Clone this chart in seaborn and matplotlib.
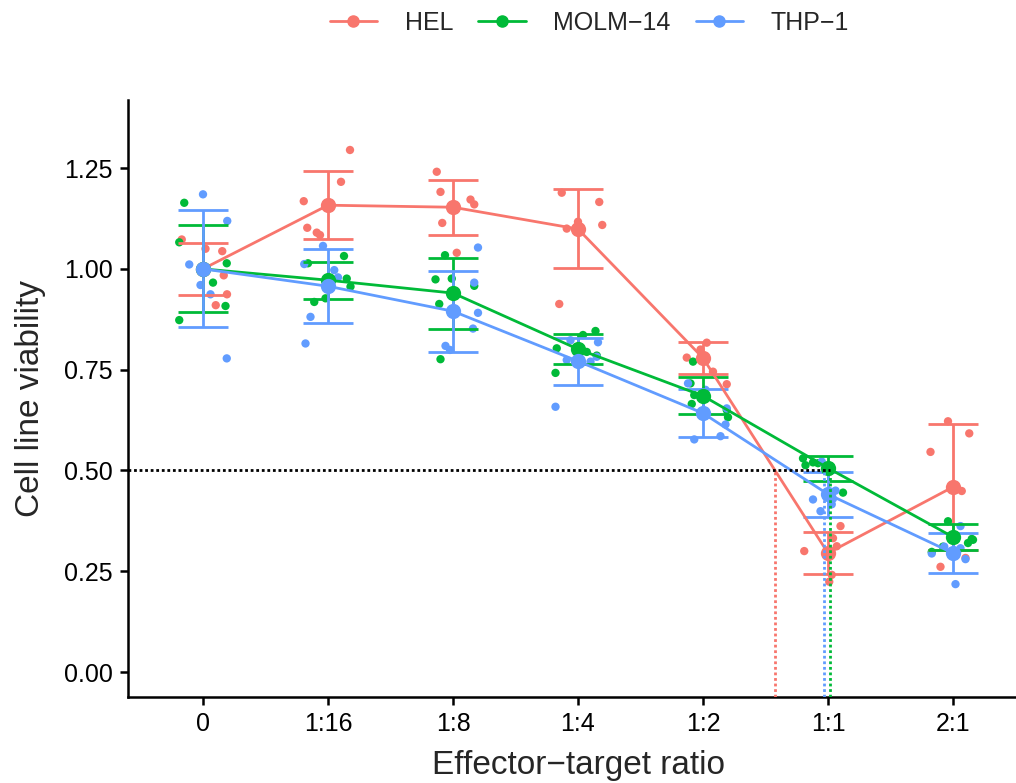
import pandas as pd
import seaborn as sns
import matplotlib.pyplot as plt
from matplotlib.lines import Line2D

# categories
ratios = ["0", "1:16", "1:8", "1:4", "1:2", "1:1", "2:1"]
cell_lines = ["HEL", "MOLM−14", "THP−1"]
palette = ["#F8766D", "#00BA38", "#619CFF"]

# group means and error (sd)
hel_mean = [1.000, 1.158, 1.153, 1.099, 0.779, 0.295, 0.459]
hel_sd = [0.065, 0.085, 0.068, 0.098, 0.040, 0.053, 0.157]
molm_mean = [1.000, 0.972, 0.940, 0.801, 0.685, 0.506, 0.335]
molm_sd = [0.108, 0.046, 0.088, 0.037, 0.046, 0.031, 0.032]
thp_mean = [1.000, 0.957, 0.895, 0.771, 0.642, 0.441, 0.295]
thp_sd = [0.145, 0.092, 0.100, 0.058, 0.059, 0.056, 0.049]

# ratio at which each line reaches 50 % viability (x position, category units)
ec50_pos = [4.576, 5.016, 4.968]

# replicate values, one row per ratio
hel_vals = [
    [1.073, 1.044, 0.984, 0.937, 0.910, 1.050],
    [1.295, 1.216, 1.168, 1.102, 1.090, 1.084],
    [1.241, 1.191, 1.172, 1.160, 1.114, 1.040],
    [1.189, 1.166, 1.109, 1.100, 1.117, 0.913],
    [0.817, 0.780, 0.782, 0.745, 0.714, 0.800],
    [0.362, 0.332, 0.312, 0.300, 0.241, 0.224],
    [0.622, 0.592, 0.546, 0.449, 0.283, 0.261],
]
hel_jit = [
    [-0.17, 0.154, 0.166, 0.192, 0.102, 0.02],
    [0.176, 0.104, -0.194, -0.166, -0.09, -0.064],
    [-0.13, -0.10, 0.14, 0.17, -0.086, 0.03],
    [-0.13, 0.17, 0.194, -0.09, 0.0, -0.15],
    [0.03, -0.13, 0.016, 0.08, 0.19, -0.02],
    [0.10, 0.04, 0.07, -0.19, 0.03, 0.01],
    [-0.04, 0.13, -0.18, 0.07, 0.10, -0.10],
]
molm_vals = [
    [1.164, 1.066, 1.014, 0.966, 0.908, 0.873],
    [1.014, 1.032, 0.976, 0.956, 0.918, 0.927],
    [1.034, 0.974, 0.976, 0.958, 0.913, 0.776],
    [0.846, 0.836, 0.803, 0.794, 0.785, 0.742],
    [0.770, 0.716, 0.687, 0.665, 0.650, 0.632],
    [0.530, 0.513, 0.518, 0.509, 0.445, 0.520],
    [0.374, 0.330, 0.328, 0.311, 0.298, 0.320],
]
molm_jit = [
    [-0.15, -0.19, 0.19, 0.08, 0.18, -0.19],
    [-0.16, 0.128, 0.15, 0.18, -0.11, -0.02],
    [-0.064, -0.14, -0.01, 0.17, -0.11, -0.10],
    [0.14, 0.04, -0.17, 0.07, 0.15, -0.18],
    [-0.08, -0.10, -0.07, -0.09, 0.19, 0.20],
    [-0.20, -0.18, -0.08, 0.01, 0.12, -0.12],
    [-0.04, 0.15, 0.16, -0.08, -0.17, 0.12],
]
thp_vals = [
    [1.185, 1.119, 1.011, 0.960, 0.937, 0.778],
    [1.057, 1.012, 0.997, 0.979, 0.881, 0.815],
    [1.053, 0.966, 0.891, 0.852, 0.799, 0.809],
    [0.818, 0.823, 0.774, 0.770, 0.782, 0.658],
    [0.716, 0.654, 0.614, 0.585, 0.577, 0.700],
    [0.522, 0.428, 0.416, 0.399, 0.450, 0.430],
    [0.362, 0.294, 0.307, 0.311, 0.218, 0.280],
]
thp_jit = [
    [0.0, 0.194, -0.11, -0.02, 0.06, 0.19],
    [-0.04, -0.19, 0.05, 0.08, -0.14, -0.18],
    [0.20, 0.17, 0.20, 0.16, -0.024, -0.06],
    [0.16, -0.06, -0.09, 0.10, 0.15, -0.18],
    [-0.12, 0.19, 0.18, 0.14, -0.07, 0.02],
    [-0.05, -0.12, 0.03, -0.06, 0.06, 0.04],
    [0.06, -0.17, 0.06, -0.07, 0.02, 0.10],
]

means = [hel_mean, molm_mean, thp_mean]
sds = [hel_sd, molm_sd, thp_sd]
vals = [hel_vals, molm_vals, thp_vals]
jits = [hel_jit, molm_jit, thp_jit]

rows = []
for name, v, j in zip(cell_lines, vals, jits):
    for i in range(len(ratios)):
        for y, dx in zip(v[i], j[i]):
            rows.append({"line": name, "x": i + dx, "viability": y})
points = pd.DataFrame(rows)

mrows = []
for name, m, s in zip(cell_lines, means, sds):
    for i in range(len(ratios)):
        mrows.append({"line": name, "x": i, "mean": m[i], "sd": s[i]})
summary = pd.DataFrame(mrows)

sns.set_theme(style="ticks")
plt.rcParams["font.family"] = ["Liberation Sans", "DejaVu Sans"]

fig = plt.figure(figsize=(10.16, 7.83), dpi=100)
ax = fig.add_axes([128 / 1016, 86 / 783, 900 / 1016, 597 / 783])
ymin, ymax = -0.062, 1.419

sns.scatterplot(data=points, x="x", y="viability", hue="line", hue_order=cell_lines,
                palette=palette, s=36, edgecolor="none", legend=False, ax=ax, zorder=2)

for name, col in zip(cell_lines, palette):
    d = summary[summary["line"] == name]
    ax.errorbar(d["x"], d["mean"], yerr=d["sd"], fmt="none", ecolor=col,
                elinewidth=2, capsize=18, capthick=2, zorder=3)

sns.lineplot(data=summary, x="x", y="mean", hue="line", hue_order=cell_lines,
             palette=palette, marker="o", markersize=11, markeredgewidth=0,
             linewidth=2, legend=False, ax=ax, zorder=4)

# 50 % reference lines
ax.plot([-0.6, max(ec50_pos)], [0.5, 0.5], color="black", ls=(0, (1, 1)), lw=2, zorder=5)
for e, col in zip(ec50_pos, palette):
    ax.plot([e, e], [ymin, 0.5], color=col, ls=(0, (1, 1)), lw=2, zorder=5)

ax.set_xlim(-0.6, 6.6)
ax.set_ylim(ymin, ymax)
ax.set_xticks(range(len(ratios)))
ax.set_xticklabels(ratios)
ax.set_yticks([0, 0.25, 0.5, 0.75, 1.0, 1.25])
ax.set_yticklabels(["0.00", "0.25", "0.50", "0.75", "1.00", "1.25"])
ax.tick_params(labelsize=18, length=6, width=1.8, color="black", labelcolor="black", pad=5)
for side in ["top", "right"]:
    ax.spines[side].set_visible(False)
for side in ["left", "bottom"]:
    ax.spines[side].set_linewidth(1.8)
    ax.spines[side].set_color("black")
ax.set_xlabel("Effector−target ratio", fontsize=24, labelpad=10)
ax.set_ylabel("Cell line viability", fontsize=24, labelpad=13)

handles = [Line2D([], [], color=c, lw=2, marker="o", markersize=8) for c in palette]
fig.legend(handles, cell_lines, loc="center", bbox_to_anchor=(0.58, 0.971), ncol=3,
           frameon=False, fontsize=18, handlelength=1.9, handletextpad=1.1,
           columnspacing=1.0)

fig.savefig("out.png", dpi=100)
